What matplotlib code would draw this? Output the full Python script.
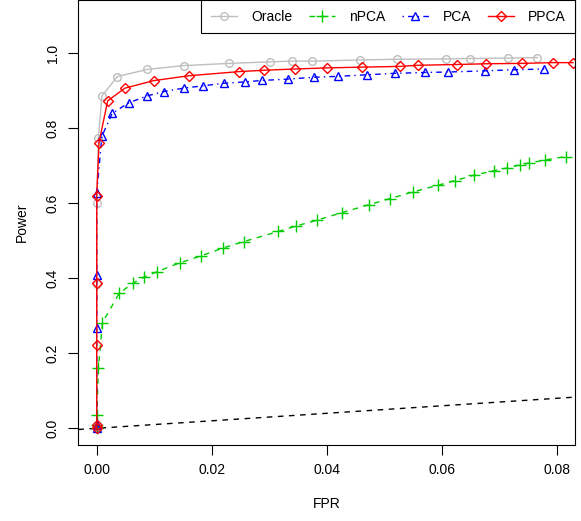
import numpy as np
import matplotlib
matplotlib.use('Agg')
import matplotlib.pyplot as plt

plt.rcParams['font.family'] = ['Liberation Sans', 'DejaVu Sans']

# Power vs FPR for each method
oracle_fpr = [0, 0, 0, 0, 0.0003, 0.0009, 0.0036, 0.0088, 0.0151, 0.0230, 0.0301,
              0.0339, 0.0375, 0.0457, 0.0522, 0.0608, 0.0649, 0.0715, 0.0766]
oracle_pow = [0, 0.01, 0.385, 0.600, 0.775, 0.886, 0.938, 0.957, 0.967, 0.973, 0.977,
              0.979, 0.979, 0.982, 0.984, 0.985, 0.986, 0.987, 0.9885]

npca_fpr = [0, 0, 0, 0.0003, 0.0010, 0.0039, 0.0063, 0.0082, 0.0104, 0.0144, 0.0182,
            0.0220, 0.0256, 0.0316, 0.0346, 0.0383, 0.0426, 0.0473, 0.0510, 0.0549,
            0.0593, 0.0622, 0.0656, 0.0691, 0.0713, 0.0735, 0.0752, 0.0780, 0.0815]
npca_pow = [0, 0.01, 0.035, 0.162, 0.282, 0.360, 0.387, 0.403, 0.417, 0.441, 0.460,
            0.481, 0.498, 0.525, 0.539, 0.555, 0.575, 0.596, 0.6125, 0.630,
            0.648, 0.660, 0.675, 0.687, 0.694, 0.702, 0.7075, 0.7155, 0.7245]

pca_fpr = [0, 0, 0, 0, 0, 0.0009, 0.0027, 0.0056, 0.0087, 0.0117, 0.0151, 0.0184,
           0.0221, 0.0257, 0.0287, 0.0332, 0.0378, 0.0420, 0.0469, 0.0518, 0.0571,
           0.0611, 0.0675, 0.0726, 0.0778]
pca_pow = [0, 0.01, 0.268, 0.410, 0.628, 0.779, 0.840, 0.868, 0.886, 0.898, 0.907, 0.913,
           0.920, 0.9235, 0.9275, 0.931, 0.936, 0.9385, 0.9425, 0.9465, 0.9488,
           0.950, 0.953, 0.956, 0.958]

ppca_fpr = [0, 0, 0, 0, 0, 0.0004, 0.0019, 0.0049, 0.0099, 0.0160, 0.0247, 0.0291,
            0.0344, 0.0401, 0.0461, 0.0528, 0.0559, 0.0626, 0.0677, 0.0739, 0.0793, 0.0828]
ppca_pow = [0, 0.01, 0.221, 0.387, 0.620, 0.762, 0.873, 0.907, 0.927, 0.940, 0.951, 0.9547,
            0.958, 0.961, 0.963, 0.965, 0.968, 0.970, 0.972, 0.973, 0.975, 0.975]

fig = plt.figure(figsize=(5.81, 5.21), dpi=100)
ax = fig.add_axes([0.1348, 0.1459, 0.8554, 0.8541])

# reference diagonal y = x
ax.axline((0, 0), slope=1, color='black', lw=1, ls=(0, (4, 4)))

ax.plot(oracle_fpr, oracle_pow, color='#BEBEBE', lw=1, ls='-', marker='o', ms=5.5,
        mfc='none', mew=1, label='Oracle')
ax.plot(npca_fpr, npca_pow, color='#00CD00', lw=1, ls=(0, (4, 4)), marker='+', ms=8,
        mew=1, label='nPCA')
ax.plot(pca_fpr, pca_pow, color='blue', lw=1, ls=(0, (1, 3, 4, 3)), marker='^', ms=6,
        mfc='none', mew=1, label='PCA')
ax.plot(ppca_fpr, ppca_pow, color='red', lw=1, ls='-', marker='D', ms=5,
        mfc='none', mew=1, label='PPCA')

ax.set_xlim(-0.0032, 0.0832)
ax.set_ylim(-0.0445, 1.142)
ax.set_xticks([0, 0.02, 0.04, 0.06, 0.08])
ax.set_xticklabels(['0.00', '0.02', '0.04', '0.06', '0.08'])
ax.set_yticks([0, 0.2, 0.4, 0.6, 0.8, 1.0])
ax.set_yticklabels(['0.0', '0.2', '0.4', '0.6', '0.8', '1.0'], rotation=90, va='center')
ax.tick_params(direction='out', length=7.2, width=0.8, labelsize=10, pad=6)
for s in ax.spines.values():
    s.set_linewidth(0.8)

ax.set_xlabel('FPR', fontsize=10, labelpad=14)
ax.set_ylabel('Power', fontsize=10, labelpad=12)

leg = ax.legend(loc='upper right', ncol=4, frameon=True, fancybox=False,
                edgecolor='black', framealpha=1, fontsize=10, borderaxespad=0,
                handlelength=1.9, handletextpad=1.0, columnspacing=1.2,
                borderpad=0.7)
leg.get_frame().set_linewidth(0.8)

fig.savefig('out.png', dpi=100)
